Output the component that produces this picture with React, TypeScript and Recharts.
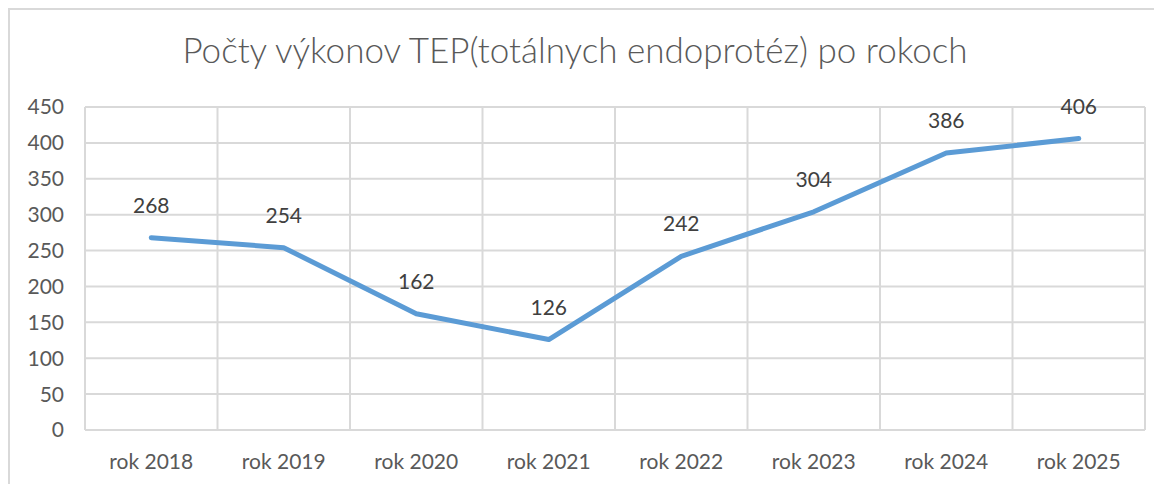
import React from "react";
import { LineChart, Line, XAxis, YAxis, CartesianGrid, LabelList } from "recharts";

const categories = ["rok 2018", "rok 2019", "rok 2020", "rok 2021", "rok 2022", "rok 2023", "rok 2024", "rok 2025"];
const values = [268, 254, 162, 126, 242, 304, 386, 406];
const yTicks = [0, 50, 100, 150, 200, 250, 300, 350, 400, 450];
const title = "Počty výkonov TEP(totálnych endoprotéz) po rokoch";

const data = categories.map((c, i) => ({ name: c, value: values[i] }));

const FONT = "Lato, 'Open Sans', sans-serif";

export default function App() {
  return (
    <div style={{ position: "relative", width: 1154, height: 476, fontFamily: FONT }}>
      <div
        style={{
          position: "absolute",
          left: 0,
          top: 0,
          width: 1160,
          height: 480,
          borderLeft: "2px solid #d9d9d9",
          borderTop: "2px solid #d9d9d9",
          boxSizing: "border-box",
        }}
      />
      <div
        style={{
          position: "absolute",
          left: 0,
          top: 19,
          width: 1134,
          textAlign: "center",
          fontSize: 35,
          fontWeight: 300,
          color: "#595959",
          lineHeight: "44px",
        }}
      >
        {title}
      </div>
      <LineChart
        width={1154}
        height={476}
        data={data}
        margin={{ top: 99, right: 17, bottom: 14, left: 17 }}
        style={{ position: "absolute", left: 0, top: 0 }}
      >
        <CartesianGrid
          stroke="#d9d9d9"
          strokeWidth={2}
          verticalCoordinatesGenerator={({ offset }: any) =>
            categories.map((_, i) => offset.left + (i * offset.width) / categories.length).concat([offset.left + offset.width])
          }
        />
        <XAxis
          dataKey="name"
          scale="band"
          axisLine={{ stroke: "#d9d9d9", strokeWidth: 2 }}
          tickLine={false}
          tick={{ fill: "#595959", fontSize: 21, fontFamily: FONT }}
          tickMargin={18}
          height={40}
          interval={0}
        />
        <YAxis
          domain={[0, 450]}
          ticks={yTicks}
          axisLine={false}
          tickLine={false}
          tick={{ fill: "#595959", fontSize: 21, fontFamily: FONT }}
          width={60}
          tickMargin={15}
          interval={0}
        />
        <Line
          type="linear"
          dataKey="value"
          stroke="#5B9BD5"
          strokeWidth={5}
          dot={false}
          isAnimationActive={false}
          strokeLinecap="round"
          strokeLinejoin="round"
        >
          <LabelList dataKey="value" position="top" offset={25} fill="#404040" fontSize={21} fontFamily={FONT} />
        </Line>
      </LineChart>
    </div>
  );
}
